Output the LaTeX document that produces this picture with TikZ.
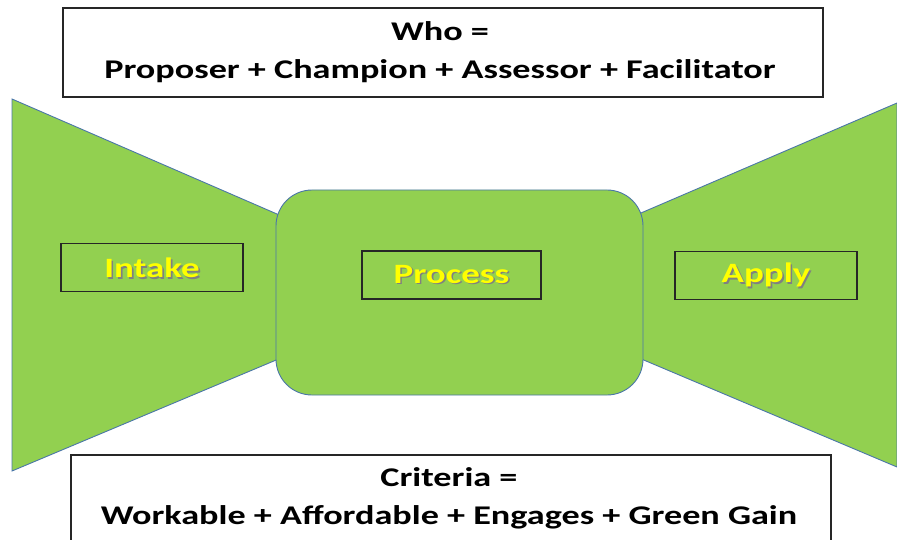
\documentclass[tikz,border=0pt]{standalone}
\usepackage{fontspec}
\setmainfont{Carlito}
\newfontfamily\wideinfo[FakeStretch=1.34]{Carlito}
\newfontfamily\widelabel[FakeStretch=1.32]{Carlito}
\definecolor{leaf}{HTML}{92D050}
\definecolor{edge}{HTML}{4A76A8}
\definecolor{txtyel}{HTML}{FFFF00}
\newcommand\shtext[1]{\leavevmode\rlap{\kern1.6pt\raisebox{-1.6pt}{\textcolor{black!50}{#1}}}#1}
\tikzset{
  shapefill/.style={fill=leaf, draw=edge, line width=0.9pt},
  labelbox/.style={draw=black!85, line width=1.3pt, minimum height=48pt, inner sep=0pt},
  infobox/.style={draw=black!85, fill=white, line width=1.1pt, align=center, inner sep=0pt},
  ylabel/.style={font=\widelabel\fontsize{28}{30}\selectfont\bfseries, text=txtyel},
  infotext/.style={font=\wideinfo\fontsize{27}{38}\selectfont\bfseries, align=center}
}
\begin{document}
\begin{tikzpicture}[x=1pt,y=-1pt]
\useasboundingbox (0,0) rectangle (897,540);
% left and right funnels
\path[shapefill] (12,99) -- (300,224) -- (300,350) -- (12,471) -- cycle;
\path[shapefill] (897,103) -- (620,222) -- (620,350) -- (897,467) -- cycle;
% central rounded box
\node[shapefill, rounded corners=36pt, minimum width=367pt, minimum height=205pt, inner sep=0pt] (core) at (459.5,292.5) {};
% label boxes
\node[labelbox, minimum width=182pt] (intake) at (152,267.5) {};
\node[labelbox, minimum width=179pt] (process) at (451.5,275) {};
\node[labelbox, minimum width=182pt] (apply) at (766,275.5) {};
\node[ylabel] (intaket) at (152,268.5) {\shtext{Intake}};
\node[ylabel] (processt) at (451.5,275) {\shtext{Process}};
\node[ylabel] (applyt) at (766,276) {\shtext{Apply}};
% info boxes
\node[infobox, minimum width=760pt, minimum height=89pt] (who) at (443,52.5) {};
\node[infotext] (whot) at (440,52) {Who =\\Proposer + Champion + Assessor + Facilitator};
\node[infobox, minimum width=760pt, minimum height=100pt] (crit) at (451,505) {};
\node[infotext] (critt) at (449,498) {Criteria =\\Workable + Affordable + Engages + Green Gain};
\end{tikzpicture}
\end{document}
